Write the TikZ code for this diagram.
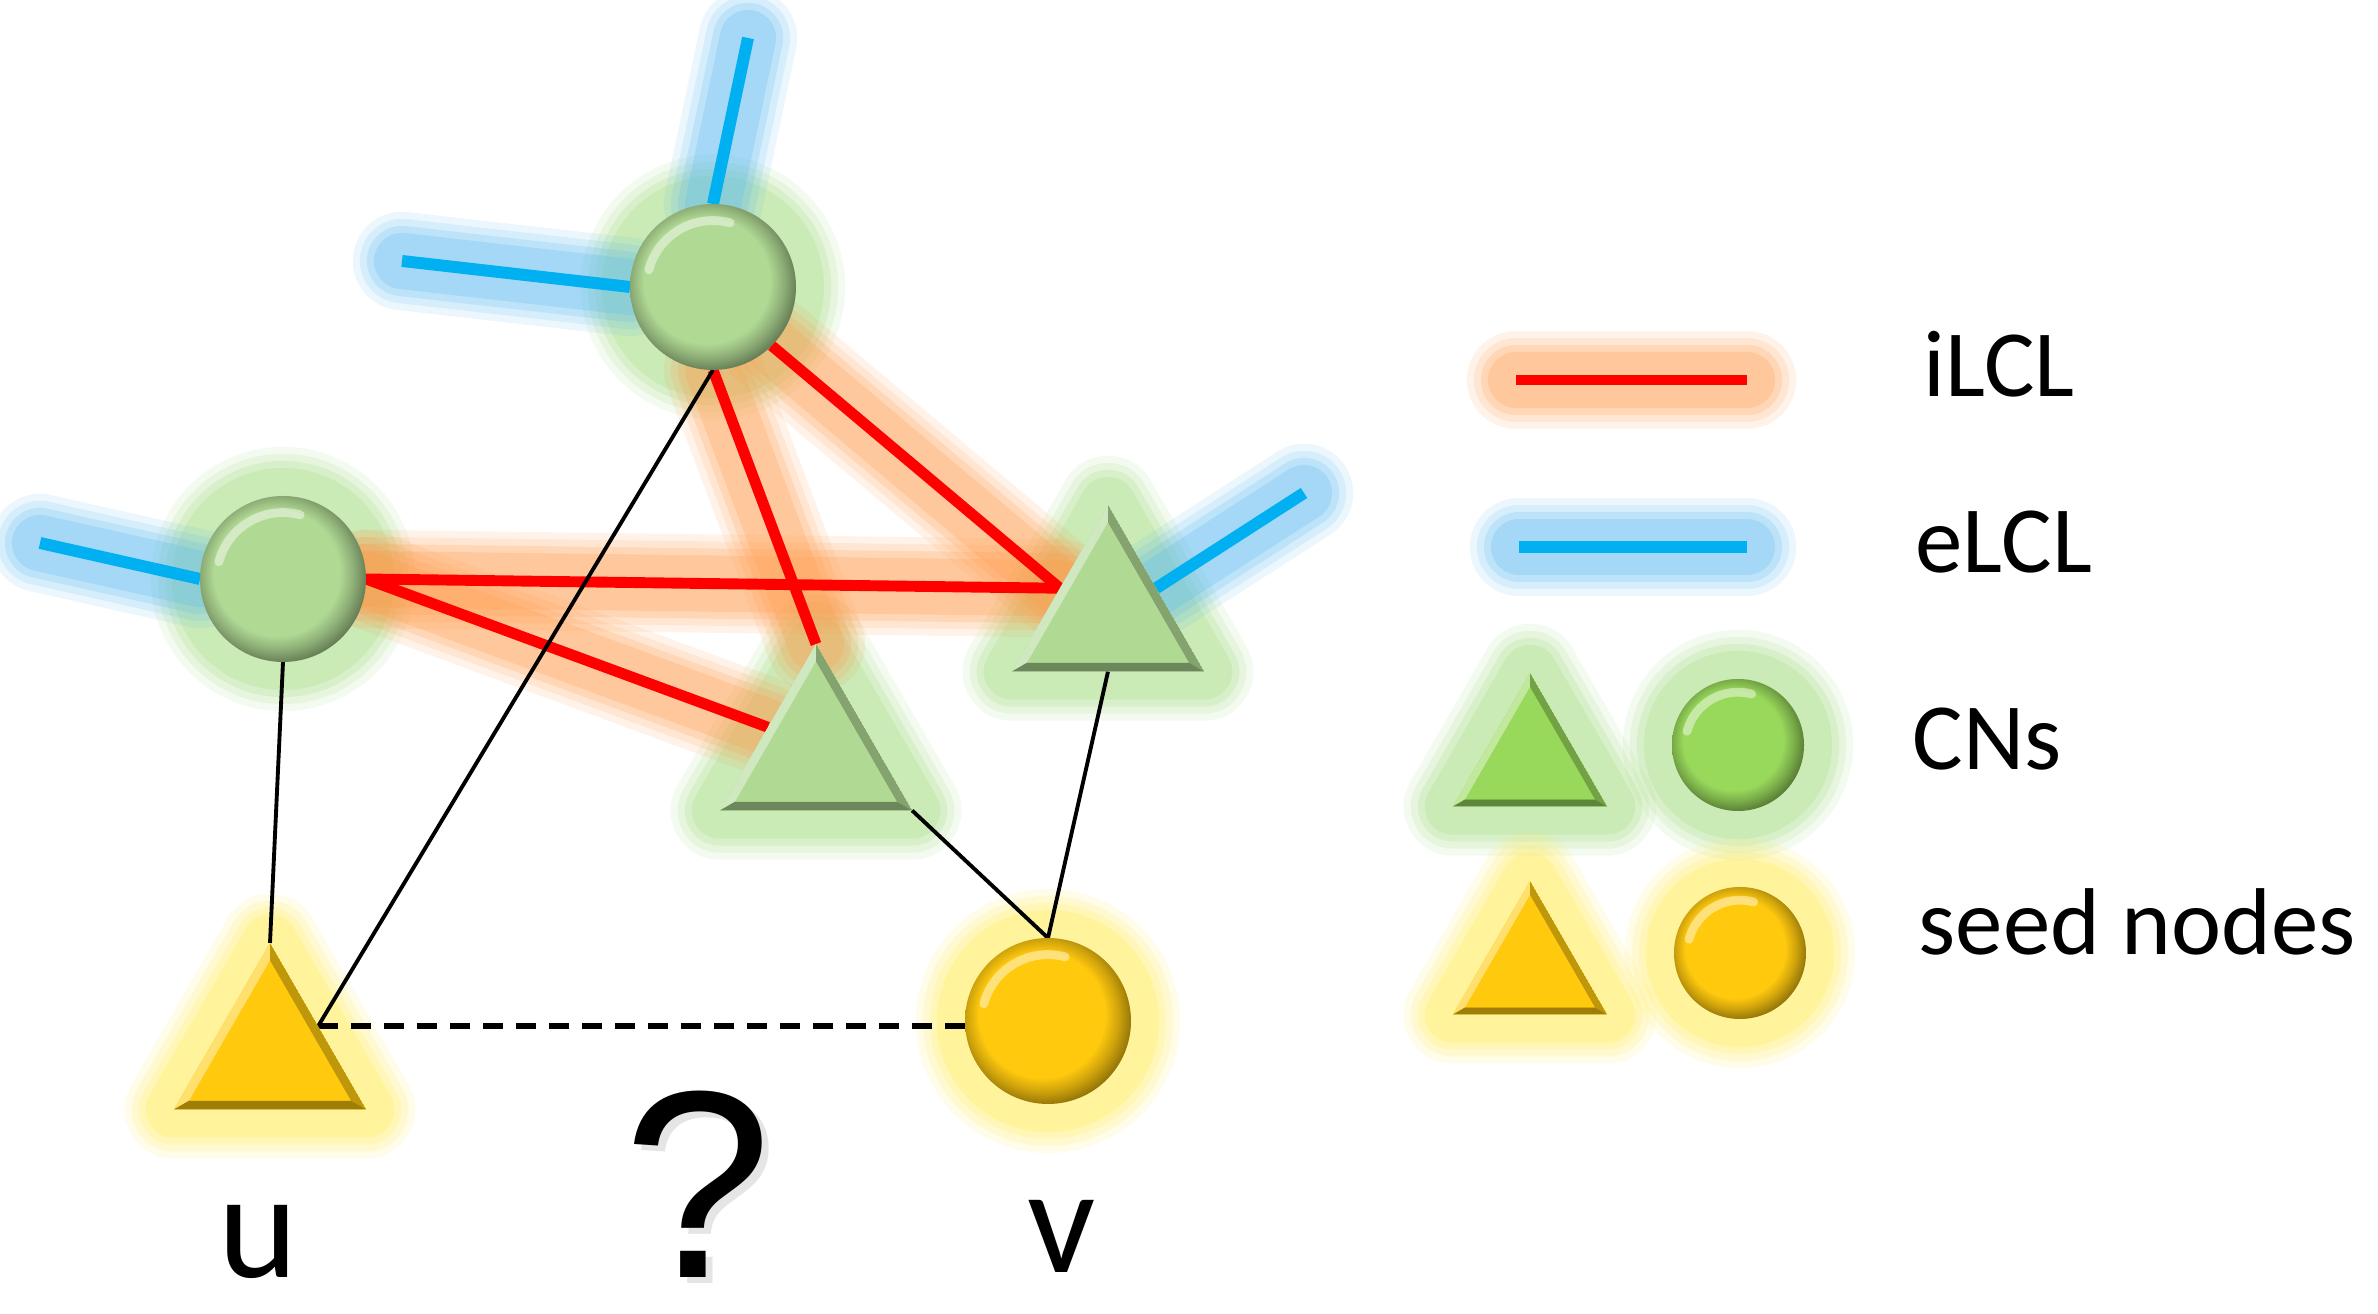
\documentclass[tikz,border=0pt]{standalone}
\usepackage{fontspec}
\setmainfont{Carlito}
\newfontfamily\qfont{Liberation Sans}
\usetikzlibrary{shapes.geometric,calc,positioning}
\definecolor{cCN}{HTML}{B0D994}
\definecolor{cCNl}{HTML}{98D85B}
\definecolor{cSeed}{HTML}{FFC90E}
\definecolor{cRed}{HTML}{FF0000}
\definecolor{cBlue}{HTML}{00B0F0}
\definecolor{cGlowG}{HTML}{9ED97A}
\definecolor{cGlowY}{HTML}{FFE94A}
\definecolor{cGlowR}{HTML}{FF9A4A}
\definecolor{cGlowB}{HTML}{5BB8F0}

\pgfdeclarelayer{halo}
\pgfdeclarelayer{edges}
\pgfsetlayers{halo,edges,main}

% button look of the round nodes
\pgfdeclareradialshading{bevelG}{\pgfpoint{-3bp}{3bp}}{color(0bp)=(cCN); color(19bp)=(cCN);
  color(23bp)=(cCN!80!black); color(28bp)=(cCN!50!black); color(50bp)=(cCN!50!black)}
\pgfdeclareradialshading{bevelL}{\pgfpoint{-3bp}{3bp}}{color(0bp)=(cCNl); color(19bp)=(cCNl);
  color(23bp)=(cCNl!80!black); color(28bp)=(cCNl!50!black); color(50bp)=(cCNl!50!black)}
\pgfdeclareradialshading{bevelY}{\pgfpoint{-3bp}{3bp}}{color(0bp)=(cSeed); color(19bp)=(cSeed);
  color(23bp)=(cSeed!80!black); color(28bp)=(cSeed!50!black); color(50bp)=(cSeed!50!black)}

\tikzset{
  cn/.style    = {circle, minimum size=1.66cm, inner sep=0pt, outer sep=0pt, shade, shading=#1,
                  path picture={
                    \draw[white, opacity=.45, line width=2.5pt, line cap=round]
                      let \p1=($(path picture bounding box.east)-(path picture bounding box.center)$) in
                      ($(path picture bounding box.center)+(165:0.8*\x1)$)
                      arc[start angle=165, end angle=75, radius=0.8*\x1];}},
  tri/.style   = {regular polygon, regular polygon sides=3, minimum size=2.22cm,
                  inner sep=0pt, outer sep=0pt, fill=#1,
                  path picture={
                    \coordinate (tA) at (path picture bounding box.north);
                    \coordinate (tB) at (path picture bounding box.south west);
                    \coordinate (tC) at (path picture bounding box.south east);
                    \coordinate (tG) at ($(tA)!2/3!(path picture bounding box.south)$);
                    \coordinate (ta) at ($(tG)!.84!(tA)$);
                    \coordinate (tb) at ($(tG)!.84!(tB)$);
                    \coordinate (tc) at ($(tG)!.84!(tC)$);
                    \fill[#1!60!white] (tA) -- (tB) -- (tb) -- (ta) -- cycle;
                    \fill[#1!75!black] (tA) -- (tC) -- (tc) -- (ta) -- cycle;
                    \fill[#1!62!black] (tB) -- (tC) -- (tc) -- (tb) -- cycle;
                    \fill[#1] (ta) -- (tb) -- (tc) -- cycle;}},
  halo/.style  = {draw=#1, draw opacity=.25, line width=16pt, line cap=round, line join=round,
                  preaction={draw=#1, draw opacity=.12, line width=28pt, line cap=round, line join=round},
                  preaction={draw=#1, draw opacity=.15, line width=24pt, line cap=round, line join=round},
                  preaction={draw=#1, draw opacity=.2, line width=20pt, line cap=round, line join=round}},
  ilcl/.style  = {draw=cRed, line width=3.1pt},
  elcl/.style  = {draw=cBlue, line width=3.4pt},
  lnk/.style   = {draw=black, line width=1.1pt},
  guess/.style = {draw=black, line width=1.7pt, dash pattern=on 0.2cm off 0.13cm},
  lab/.style   = {font=\fontsize{27}{32}\selectfont, anchor=base west, inner sep=0pt},
  big/.style   = {font=\fontsize{43}{48}\selectfont, anchor=base, inner sep=0pt},
  qm/.style    = {font=\qfont\fontsize{76}{80}\selectfont, anchor=base, inner sep=0pt},
}

\begin{document}
\begin{tikzpicture}
  \useasboundingbox (0,0) rectangle (23.78,13.14);

  % graph
  \node[cn=bevelG] (T) at (7.13,10.27) {};
  \node[cn=bevelG] (L) at (2.83,7.35) {};
  \node[tri=cCN] (M) at (8.16,5.59) {};
  \node[tri=cCN] (R) at (11.08,6.98) {};
  \node[tri=cSeed] (su) at (2.70,2.60) {};
  \node[cn=bevelY] (sv) at (10.48,2.93) {};

  \coordinate (eT1) at (7.48,12.76);
  \coordinate (eT2) at (4.02,10.53);
  \coordinate (eL) at (0.40,7.71);
  \coordinate (eR) at (13.04,8.21);

  \node[big] (lu) at (2.58,0.36) {u};
  \node[big] (lv) at (10.62,0.41) {v};
  \node[qm, text=black!40, opacity=.25] (lqs) at (7.05,0.30) {?};
  \node[qm] (lq) at (6.98,0.36) {?};

  % legend
  \coordinate (kR1) at (15.16,9.34);
  \coordinate (kR2) at (17.47,9.34);
  \coordinate (kB1) at (15.19,7.67);
  \coordinate (kB2) at (17.47,7.67);
  \node[tri=cCNl, minimum size=1.78cm] (kTriG) at (15.30,5.52) {};
  \node[cn=bevelL, minimum size=1.32cm] (kCirG) at (17.38,5.69) {};
  \node[tri=cSeed, minimum size=1.78cm] (kTriY) at (15.30,3.44) {};
  \node[cn=bevelY, minimum size=1.32cm] (kCirY) at (17.40,3.61) {};
  \node[lab] (tI) at (19.23,9.17) {iLCL};
  \node[lab] (tE) at (19.15,7.41) {eLCL};
  \node[lab] (tC) at (19.12,5.44) {CNs};
  \node[lab] (tS) at (19.18,3.59) {seed nodes};

  \begin{pgfonlayer}{halo}
    \draw[halo=cGlowG] (T) circle[radius=.83cm];
    \draw[halo=cGlowG] (L) circle[radius=.83cm];
    \draw[halo=cGlowG] (M.corner 1) -- (M.corner 2) -- (M.corner 3) -- cycle;
    \draw[halo=cGlowG] (R.corner 1) -- (R.corner 2) -- (R.corner 3) -- cycle;
    \draw[halo=cGlowY] (su.corner 1) -- (su.corner 2) -- (su.corner 3) -- cycle;
    \draw[halo=cGlowY] (sv) circle[radius=.83cm];
    \draw[halo=cGlowG] (kTriG.corner 1) -- (kTriG.corner 2) -- (kTriG.corner 3) -- cycle;
    \draw[halo=cGlowG] (kCirG) circle[radius=.66cm];
    \draw[halo=cGlowY] (kTriY.corner 1) -- (kTriY.corner 2) -- (kTriY.corner 3) -- cycle;
    \draw[halo=cGlowY] (kCirY) circle[radius=.66cm];

    \draw[halo=cGlowB] (T.north) -- (eT1);
    \draw[halo=cGlowB] (T.west) -- (eT2);
    \draw[halo=cGlowB] (L.west) -- (eL);
    \draw[halo=cGlowB] (R.side 3) -- (eR);
    \draw[halo=cGlowR] (L.east) -- (R.side 1);
    \draw[halo=cGlowR] (L.east) -- (M.side 1);
    \draw[halo=cGlowR] (T.south) -- (M.corner 1);
    \draw[halo=cGlowR] (T.south east) -- (R.side 1);
    \draw[halo=cGlowR] (kR1) -- (kR2);
    \draw[halo=cGlowB] (kB1) -- (kB2);
  \end{pgfonlayer}

  \begin{pgfonlayer}{edges}
    \draw[elcl] (T.north) -- (eT1);
    \draw[elcl] (T.west) -- (eT2);
    \draw[elcl] (L.west) -- (eL);
    \draw[elcl] (R.side 3) -- (eR);
    \draw[ilcl] (L.east) -- (R.side 1);
    \draw[ilcl] (L.east) -- (M.side 1);
    \draw[ilcl] (T.south) -- (M.corner 1);
    \draw[ilcl] (T.south east) -- (R.side 1);
    \draw[lnk] (L.south) -- (su.corner 1);
    \draw[lnk] (T.south) -- (su.side 3);
    \draw[lnk] (M.corner 3) -- (sv.north);
    \draw[lnk] (R.side 2) -- (sv.north);
    \draw[guess] (su.side 3) -- (su.side 3 -| sv.west);
    \draw[ilcl] (kR1) -- (kR2);
    \draw[elcl] (kB1) -- (kB2);
  \end{pgfonlayer}
\end{tikzpicture}
\end{document}
